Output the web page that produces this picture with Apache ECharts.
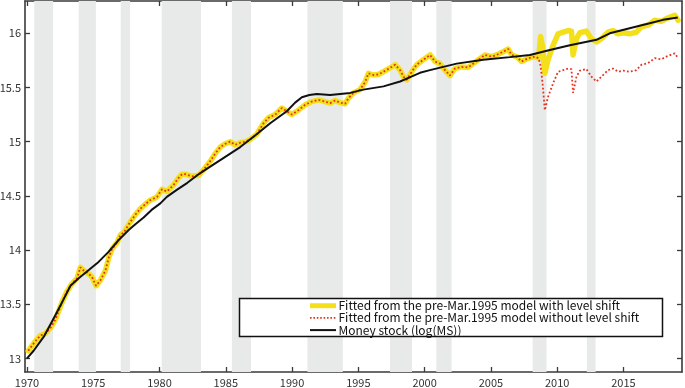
<!DOCTYPE html>
<html><head><meta charset="utf-8">
<script src="https://cdn.jsdelivr.net/npm/echarts@6/dist/echarts.min.js"></script>
<style>html,body{margin:0;padding:0;background:#fff}#c{width:685px;height:388px}</style>
</head><body><div id="c"></div>
<script>
// ---- data ----
const xTicks = [1970, 1975, 1980, 1985, 1990, 1995, 2000, 2005, 2010, 2015];
const yTicks = [13, 13.5, 14, 14.5, 15, 15.5, 16];
const recessionStart = [1970.55, 1973.9, 1977.07, 1980.16, 1985.46, 1991.16, 1997.39, 2000.88, 2008.15, 2012.24];
const recessionEnd   = [1971.97, 1975.2, 1977.78, 1983.13, 1986.9, 1993.83, 1999.05, 2002.04, 2009.2, 2012.9];

const msYears = [1970.0,1970.5,1971.27,1972.15,1972.7,1973.28,1973.9,1974.66,1975.4,1976.17,1976.9,1977.67,1978.2,1978.8,1979.4,1980.06,1980.55,1981.3,1982.1,1983.07,1984.58,1986.09,1987.35,1988.35,1989.6,1990.23,1990.74,1991.3,1991.87,1992.87,1994.38,1995.38,1996.9,1998.15,1999.0,1999.65,2000.4,2002.42,2004.42,2006.43,2007.94,2009.45,2010.96,2012.97,2013.97,2015.47,2016.98,2017.99,2019.1];
const msValues = [13.00,13.07,13.20,13.40,13.53,13.67,13.74,13.815,13.89,13.985,14.09,14.185,14.24,14.30,14.37,14.43,14.49,14.555,14.62,14.71,14.83,14.95,15.07,15.17,15.28,15.36,15.41,15.43,15.44,15.43,15.45,15.48,15.51,15.555,15.60,15.635,15.66,15.72,15.755,15.78,15.80,15.846,15.89,15.94,16.00,16.047,16.093,16.124,16.145];

const fitYears = [1970.1,1970.4,1970.65,1971.0,1971.4,1971.77,1972.15,1972.4,1972.65,1973.03,1973.4,1973.78,1974.03,1974.28,1974.66,1974.91,1975.21,1975.54,1975.92,1976.17,1976.42,1976.8,1977.05,1977.3,1977.8,1978.2,1978.55,1979.0,1979.3,1979.81,1980.19,1980.56,1981.06,1981.4,1981.7,1981.94,1982.45,1982.95,1983.32,1983.83,1984.2,1984.58,1984.96,1985.33,1985.7,1986.09,1986.5,1986.84,1987.35,1987.85,1988.22,1988.73,1989.23,1989.6,1989.98,1990.48,1990.99,1991.49,1992.0,1992.49,1992.87,1993.25,1993.63,1994.0,1994.25,1994.63,1995.13,1995.51,1995.76,1996.13,1996.51,1996.89,1997.39,1997.77,1998.15,1998.4,1998.65,1999.03,1999.4,1999.9,2000.41,2000.78,2001.16,2001.54,2001.91,2002.29,2002.79,2003.29,2003.67,2004.05,2004.55,2005.06,2005.43,2005.93,2006.31,2006.56,2006.94,2007.32,2007.82,2008.32,2008.6,2008.75,2008.9,2009.07,2009.32,2009.7,2010.07,2010.45,2010.83,2011.08,2011.2,2011.46,2011.71,2012.2,2012.59,2012.97,2013.34,2013.84,2014.22,2014.6,2014.98,2015.48,2015.98,2016.36,2016.86,2017.36,2017.86,2018.24,2018.87,2019.12];
const fitWithShift = [13.07,13.12,13.16,13.21,13.23,13.28,13.36,13.44,13.52,13.62,13.69,13.74,13.84,13.81,13.78,13.75,13.67,13.72,13.81,13.93,14.01,14.07,14.14,14.16,14.26,14.33,14.38,14.43,14.46,14.49,14.56,14.54,14.60,14.66,14.70,14.70,14.68,14.69,14.74,14.82,14.89,14.95,14.98,15.00,14.97,14.99,15.00,15.02,15.07,15.17,15.22,15.25,15.31,15.28,15.25,15.29,15.34,15.37,15.385,15.37,15.355,15.38,15.36,15.35,15.40,15.45,15.48,15.55,15.63,15.615,15.62,15.645,15.68,15.71,15.66,15.60,15.57,15.645,15.71,15.755,15.80,15.74,15.72,15.66,15.61,15.675,15.69,15.685,15.72,15.755,15.80,15.785,15.80,15.83,15.855,15.80,15.785,15.74,15.77,15.785,15.77,15.97,15.88,15.63,15.76,15.89,15.995,16.01,16.025,16.02,15.80,15.95,16.005,16.02,15.95,15.92,15.95,16.01,16.025,15.995,16.005,15.995,16.01,16.06,16.075,16.12,16.11,16.135,16.165,16.12];
const fitNoShift = [13.07,13.12,13.16,13.21,13.23,13.28,13.36,13.44,13.52,13.62,13.69,13.74,13.84,13.81,13.78,13.75,13.67,13.72,13.81,13.93,14.01,14.07,14.14,14.16,14.26,14.33,14.38,14.43,14.46,14.49,14.56,14.54,14.60,14.66,14.70,14.70,14.68,14.69,14.74,14.82,14.89,14.95,14.98,15.00,14.97,14.99,15.00,15.02,15.07,15.17,15.22,15.25,15.31,15.28,15.25,15.29,15.34,15.37,15.385,15.37,15.355,15.38,15.36,15.35,15.40,15.45,15.48,15.55,15.63,15.615,15.62,15.645,15.68,15.71,15.66,15.60,15.57,15.645,15.71,15.755,15.80,15.74,15.72,15.66,15.61,15.675,15.69,15.685,15.72,15.755,15.80,15.785,15.80,15.83,15.855,15.80,15.785,15.74,15.77,15.785,15.77,15.70,15.54,15.29,15.415,15.54,15.645,15.66,15.675,15.67,15.45,15.60,15.655,15.67,15.60,15.555,15.60,15.66,15.675,15.645,15.655,15.645,15.66,15.71,15.725,15.77,15.76,15.785,15.815,15.77];

const names = ['Fitted from the pre-Mar.1995 model with level shift','Fitted from the pre-Mar.1995 model without level shift','Money stock (log(MS))'];

// ---- chart ----
const zip = (xs, ys) => xs.map((x, i) => [x, ys[i]]);
const FONT = "'Noto Sans CJK JP', 'Noto Sans', sans-serif";
const AX = '#3a3a3a';
const YEL = '#f4e01a', RED = '#e3321f', BLK = '#111';
const chart = echarts.init(document.getElementById('c'), null, {renderer: 'canvas'});
const xBase = {
  type: 'value', min: 1969.85, max: 2019.42, splitLine: {show: false},
  axisLine: {show: true, lineStyle: {color: AX, width: 1.6}},
  axisTick: {show: true, inside: true, length: 5, lineStyle: {color: AX, width: 1.3}, customValues: xTicks}
};
const yBase = {
  type: 'value', min: 12.874, max: 16.298, splitLine: {show: false},
  axisLine: {show: true, lineStyle: {color: AX, width: 1.6}},
  axisTick: {show: true, inside: true, length: 5, lineStyle: {color: AX, width: 1.3}, customValues: yTicks}
};
// legend drawn as graphic (box, samples, real text)
const legX = 310, legY0 = 305.7, legDy = 12.2;
const legStyles = [
  {stroke: YEL, lineWidth: 5},
  {stroke: RED, lineWidth: 1.6, lineDash: [1.6, 1.8]},
  {stroke: BLK, lineWidth: 2}
];
const legendGraphics = [{
  type: 'rect', z: 50, silent: true,
  shape: {x: 239.5, y: 298.5, width: 423, height: 38},
  style: {fill: '#fff', stroke: '#111', lineWidth: 1.5}
}];
names.forEach((n, i) => {
  const y = legY0 + i * legDy;
  legendGraphics.push({type: 'line', z: 51, silent: true,
    shape: {x1: legX, y1: y, x2: legX + 26, y2: y}, style: legStyles[i]});
  legendGraphics.push({type: 'text', z: 51, silent: true, x: legX + 28.5, y: y,
    style: {text: n, fill: '#111', font: "12px 'Noto Sans CJK JP', sans-serif", textVerticalAlign: 'middle', verticalAlign: 'middle'}});
});

chart.setOption({
  animation: false,
  backgroundColor: '#fff',
  textStyle: {fontFamily: FONT},
  grid: {left: 25, right: 3, top: 1, bottom: 16, containLabel: false, outerBoundsMode: 'none'},
  xAxis: [
    Object.assign({}, xBase, {position: 'bottom',
      axisLabel: {show: true, margin: 5, color: '#333', fontSize: 11, fontFamily: FONT, customValues: xTicks, formatter: v => String(Math.round(v))}}),
    Object.assign({}, xBase, {position: 'top', axisLabel: {show: false}})
  ],
  yAxis: [
    Object.assign({}, yBase, {position: 'left',
      axisLabel: {show: true, margin: 4, color: '#333', fontSize: 11, fontFamily: FONT, customValues: yTicks, formatter: v => String(v)}}),
    Object.assign({}, yBase, {position: 'right', axisLabel: {show: false}})
  ],
  legend: {show: false},
  graphic: legendGraphics,
  series: [
    {
      name: 'recessions', type: 'line', data: [], silent: true, z: 0,
      markArea: {silent: true, itemStyle: {color: '#e8eaea'},
        data: recessionStart.map((s, i) => [{xAxis: s}, {xAxis: recessionEnd[i]}])}
    },
    {
      name: names[0], type: 'line', data: zip(fitYears, fitWithShift), z: 2,
      showSymbol: false, symbol: 'none', color: YEL,
      lineStyle: {color: YEL, width: 5.5, join: 'round', cap: 'round'}
    },
    {
      name: names[1], type: 'line', data: zip(fitYears, fitNoShift), z: 3,
      showSymbol: false, symbol: 'none', color: RED,
      lineStyle: {color: RED, width: 1.8, type: [1.8, 2.2]}
    },
    {
      name: names[2], type: 'line', data: zip(msYears, msValues), z: 4,
      showSymbol: false, symbol: 'none', color: BLK,
      lineStyle: {color: BLK, width: 2}
    }
  ]
});
</script></body></html>
